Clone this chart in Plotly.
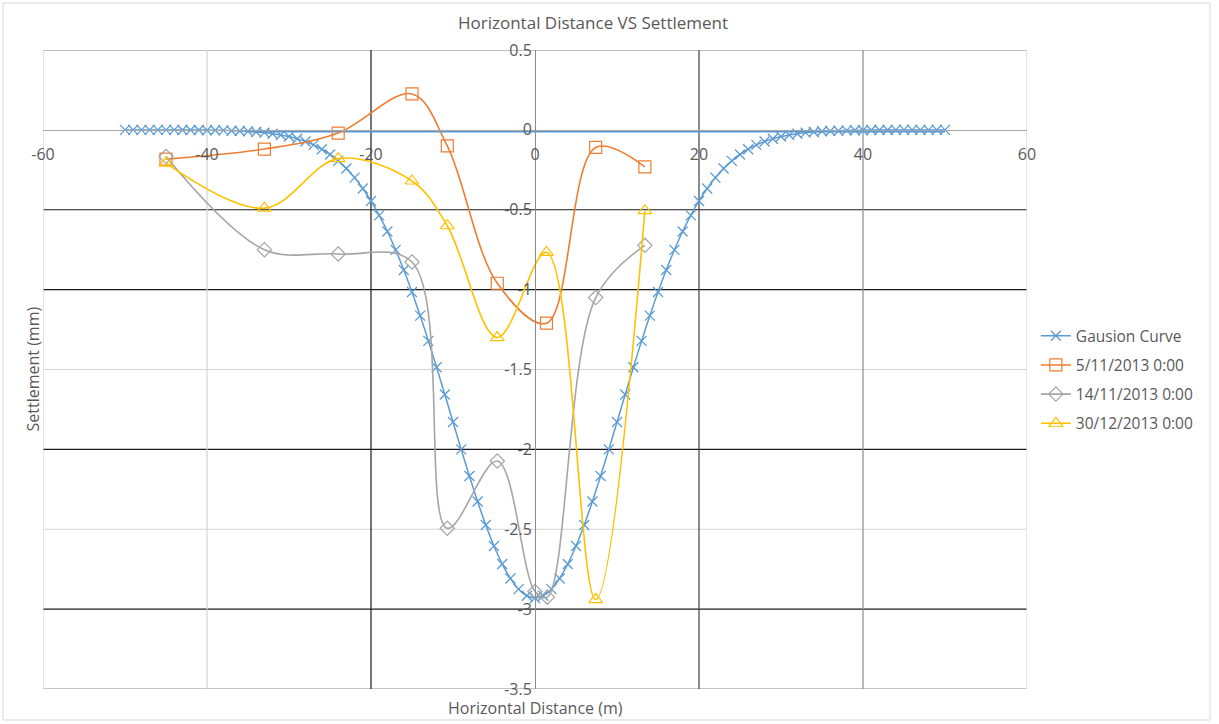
import plotly.graph_objects as go

# ---------------- data ----------------
gauss_x = list(range(-50, 51))
gauss_y = [0.000, 0.000, 0.000, 0.000, 0.000, 0.000, 0.000, -0.001, -0.001, -0.001,
           -0.002, -0.002, -0.003, -0.005, -0.007, -0.009, -0.013, -0.017, -0.024, -0.032,
           -0.042, -0.056, -0.073, -0.094, -0.121, -0.154, -0.194, -0.242, -0.299, -0.367,
           -0.445, -0.535, -0.636, -0.751, -0.877, -1.015, -1.163, -1.321, -1.486, -1.657,
           -1.829, -2.000, -2.167, -2.326, -2.473, -2.605, -2.717, -2.808, -2.875, -2.916,
           -2.930,
           -2.916, -2.875, -2.808, -2.717, -2.605, -2.473, -2.326, -2.167, -2.000, -1.829,
           -1.657, -1.486, -1.321, -1.163, -1.015, -0.877, -0.751, -0.636, -0.535, -0.445,
           -0.367, -0.299, -0.242, -0.194, -0.154, -0.121, -0.094, -0.073, -0.056, -0.042,
           -0.032, -0.024, -0.017, -0.013, -0.009, -0.007, -0.005, -0.003, -0.002, -0.002,
           -0.001, -0.001, -0.001, 0.000, 0.000, 0.000, 0.000, 0.000, 0.000, 0.000]
# return segment of the Gaussian line (as drawn in the source chart)
gauss_return_x = [-35, 50]
gauss_return_y = [-0.012, -0.012]

nov5_x = [-45, -33, -24, -15, -10.7, -4.6, 1.4, 7.4, 13.4]
nov5_y = [-0.183, -0.12, -0.02, 0.225, -0.10, -0.96, -1.21, -0.11, -0.231]

nov14_x = [-45, -33, -24, -15, -10.7, -4.6, 0, 1.5, 7.4, 13.4]
nov14_y = [-0.167, -0.75, -0.777, -0.827, -2.494, -2.073, -2.89, -2.925, -1.05, -0.723]

dec30_x = [-45, -33, -24, -15, -10.7, -4.6, 1.4, 7.4, 13.4]
dec30_y = [-0.208, -0.49, -0.18, -0.32, -0.60, -1.30, -0.767, -2.94, -0.506]

series_names = ["Gausion Curve", "5/11/2013 0:00", "14/11/2013 0:00", "30/12/2013 0:00"]

x_ticks = [-60, -40, -20, 0, 20, 40, 60]
y_ticks = [0.5, 0, -0.5, -1, -1.5, -2, -2.5, -3, -3.5]

# ---------------- styles ----------------
BLUE = "#5B9BD5"
ORANGE = "#ED7D31"
GRAY = "#A5A5A5"
YELLOW = "#FFC000"
TXT = "#595959"
FONT = "Open Sans"

fig = go.Figure()

fig.add_trace(go.Scatter(
    x=gauss_return_x, y=gauss_return_y, mode="lines",
    line=dict(color=BLUE, width=1.5), showlegend=False, hoverinfo="skip"))

fig.add_trace(go.Scatter(
    x=gauss_x, y=gauss_y, name=series_names[0], mode="lines+markers", legendgroup="g1",
    line=dict(color=BLUE, width=1.5, shape="spline", smoothing=0.6),
    marker=dict(symbol="x-thin", size=10, line=dict(color=BLUE, width=1.3))))

fig.add_trace(go.Scatter(
    x=nov5_x, y=nov5_y, name=series_names[1], mode="lines+markers", legendgroup="g2",
    line=dict(color=ORANGE, width=1.6, shape="spline", smoothing=1.0),
    marker=dict(symbol="square-open", size=12, color=ORANGE, line=dict(width=1.2))))

fig.add_trace(go.Scatter(
    x=nov14_x, y=nov14_y, name=series_names[2], mode="lines+markers", legendgroup="g3",
    line=dict(color=GRAY, width=1.6, shape="spline", smoothing=1.0),
    marker=dict(symbol="diamond-open", size=11, color=GRAY, line=dict(width=1.2))))

fig.add_trace(go.Scatter(
    x=dec30_x, y=dec30_y, name=series_names[3], mode="lines+markers", legendgroup="g4",
    line=dict(color=YELLOW, width=1.6, shape="spline", smoothing=1.0),
    marker=dict(symbol="triangle-up-open", size=12, color=YELLOW, line=dict(width=1.2))))

# gridlines drawn as shapes (colours as they appear in the source)
h_colors = {0.5: "#7f7f7f", -0.5: "#1a1a1a", -1: "#1a1a1a", -1.5: "#d4d4d4",
            -2: "#1a1a1a", -2.5: "#d4d4d4", -3: "#1a1a1a", -3.5: "#8c8c8c"}
v_colors = {-60: "#d4d4d4", -40: "#d4d4d4", -20: "#1a1a1a", 20: "#404040",
            40: "#8c8c8c", 60: "#d4d4d4"}
shapes = []
for yv, c in h_colors.items():
    shapes.append(dict(type="line", xref="x", yref="y", x0=-60, x1=60, y0=yv, y1=yv,
                       line=dict(color=c, width=1.2), layer="below"))
for xv, c in v_colors.items():
    shapes.append(dict(type="line", xref="x", yref="y", x0=xv, x1=xv, y0=-3.5, y1=0.5,
                       line=dict(color=c, width=1.2), layer="below"))
# chart-area border
shapes.append(dict(type="rect", xref="paper", yref="paper", x0=-0.0407, x1=1.186,
                   y0=-0.0485, y1=1.0736, line=dict(color="#d9d9d9", width=1), layer="below"))

fig.update_layout(
    width=1219, height=724,
    margin=dict(l=43, r=192, t=50, b=35),
    paper_bgcolor="white", plot_bgcolor="white",
    font=dict(family=FONT, size=16, color=TXT),
    shapes=shapes,
    showlegend=True,
    legend=dict(x=1.009, y=0.484, xanchor="left", yanchor="middle",
                font=dict(family=FONT, size=15.5, color=TXT), tracegroupgap=6,
                itemwidth=30, bgcolor="rgba(0,0,0,0)"),
    annotations=[
        dict(text="Horizontal Distance VS Settlement", xref="paper", yref="paper",
             x=0.559, y=1.0, yanchor="middle", yshift=28, showarrow=False,
             font=dict(family=FONT, size=17, color=TXT)),
        dict(text="Horizontal Distance (m)", xref="paper", yref="paper",
             x=0.5, y=0, yanchor="middle", yshift=-19, showarrow=False,
             font=dict(family=FONT, size=16, color=TXT)),
        dict(text="Settlement (mm)", xref="paper", yref="paper",
             x=0, y=0.5, xanchor="center", xshift=-11, textangle=-90, showarrow=False,
             font=dict(family=FONT, size=16, color=TXT)),
    ],
    xaxis=dict(range=[-60, 60], tickvals=x_ticks, ticktext=[str(v) for v in x_ticks],
               showgrid=False, zeroline=False, showline=True, linecolor="#a6a6a6",
               linewidth=1, anchor="free", position=0.875, ticks="outside",
               ticklen=10, tickcolor="rgba(0,0,0,0)",
               tickfont=dict(family=FONT, size=16, color=TXT)),
    yaxis=dict(range=[-3.5, 0.5], tickvals=y_ticks, ticktext=[str(v) for v in y_ticks],
               showgrid=False, zeroline=False, showline=True, linecolor="#8c8c8c",
               linewidth=1, anchor="free", position=0.5, ticks="",
               tickfont=dict(family=FONT, size=16, color=TXT)),
)

fig.write_html("out.html", config={"displayModeBar": False},
               post_script="document.body.style.margin='0';")
